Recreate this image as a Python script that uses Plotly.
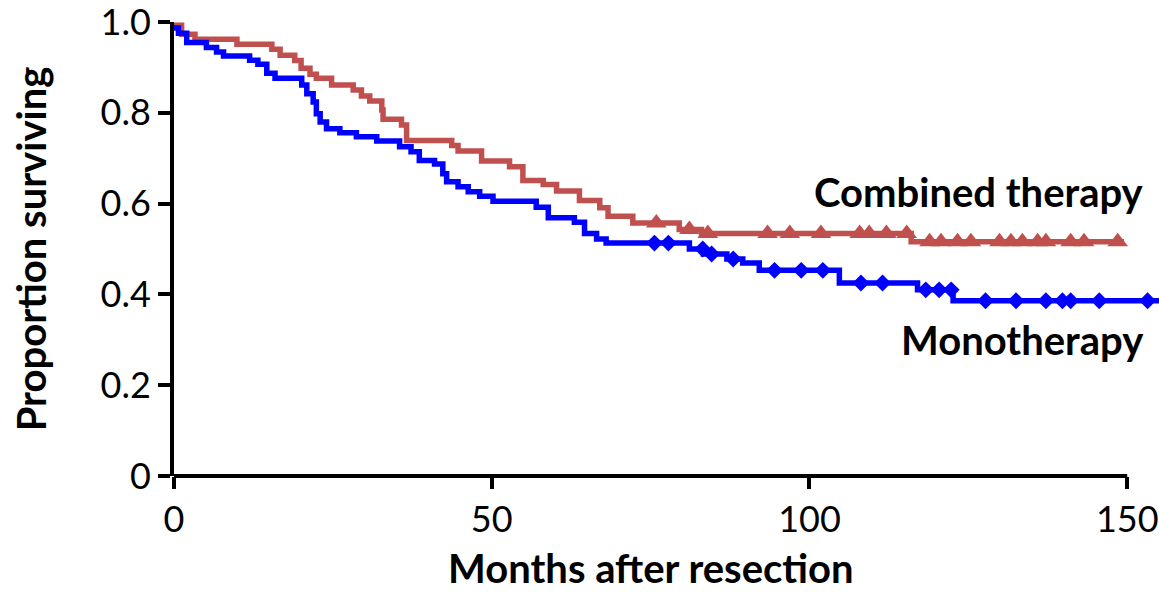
import numpy as np
import plotly.graph_objects as go

# Combined therapy (Kaplan-Meier step points)
comb_t = [0, 1.2, 3.3, 9.9, 15.4, 16.7, 19.0, 20.0, 21.4, 22.4, 24.8, 28.2, 29.5, 30.8,
          32.7, 32.9, 35.8, 36.6, 43.7, 44.7, 48.4, 52.8, 54.9, 58.1, 60.2, 63.8, 67.0,
          68.3, 72.2, 79.5, 83.0, 116.0, 149.5]
comb_s = [0.993, 0.973, 0.962, 0.951, 0.940, 0.927, 0.915, 0.898, 0.885, 0.876, 0.861, 0.850,
          0.837, 0.826, 0.806, 0.786, 0.773, 0.739, 0.728, 0.716, 0.694, 0.681, 0.651, 0.642,
          0.628, 0.607, 0.591, 0.572, 0.557, 0.543, 0.534, 0.516, 0.516]
comb_cens = [75.9, 81.1, 84.0, 93.4, 96.9, 101.8, 107.9, 109.4, 112.1, 115.3, 118.9, 120.7,
             123.3, 125.4, 129.9, 131.7, 133.5, 135.9, 137.2, 141.1, 143.2, 148.5]

# Monotherapy
mono_t = [0, 0.7, 2.0, 5.1, 6.7, 7.8, 11.9, 13.2, 14.6, 15.9, 20.1, 20.9, 21.9, 22.4, 23.0,
          24.0, 26.1, 28.7, 31.9, 35.5, 37.3, 38.6, 41.0, 42.3, 42.9, 44.7, 46.3, 48.1, 50.2,
          57.0, 58.9, 63.0, 64.6, 66.5, 68.0, 81.1, 83.3, 87.0, 89.5, 92.1, 104.7, 117.0,
          122.6, 155.0]
mono_s = [0.987, 0.975, 0.955, 0.944, 0.934, 0.925, 0.916, 0.907, 0.887, 0.876, 0.861, 0.842,
          0.824, 0.798, 0.780, 0.765, 0.756, 0.747, 0.738, 0.725, 0.714, 0.695, 0.687, 0.666,
          0.648, 0.637, 0.626, 0.616, 0.605, 0.592, 0.569, 0.559, 0.534, 0.522, 0.513, 0.500,
          0.489, 0.478, 0.469, 0.453, 0.425, 0.410, 0.386, 0.386]
mono_cens = [75.6, 77.8, 83.2, 84.6, 88.0, 94.5, 98.7, 102.1, 108.1, 111.5, 118.3, 120.4,
             122.3, 127.7, 132.5, 137.2, 139.8, 141.1, 145.6, 153.2]

x_ticks = [0, 50, 100, 150]
y_ticks = [0, 0.2, 0.4, 0.6, 0.8, 1.0]
y_tick_text = ["0", "0.2", "0.4", "0.6", "0.8", "1.0"]

RED = "#C0504D"
BLUE = "#0000FF"
FONT = "Lato"


def step_value(times, surv, t):
    idx = np.searchsorted(np.array(times), t, side="right") - 1
    return surv[max(idx, 0)]


fig = go.Figure()
fig.add_trace(go.Scatter(x=comb_t, y=comb_s, mode="lines", line=dict(color=RED, width=5.5, shape="hv"),
                         showlegend=False, hoverinfo="skip"))
fig.add_trace(go.Scatter(x=mono_t, y=mono_s, mode="lines", line=dict(color=BLUE, width=5.5, shape="hv"),
                         showlegend=False, hoverinfo="skip"))
fig.add_trace(go.Scatter(x=comb_cens, y=[step_value(comb_t, comb_s, t) for t in comb_cens], mode="markers",
                         marker=dict(symbol="triangle-up", size=18, color=RED), showlegend=False,
                         cliponaxis=False))
fig.add_trace(go.Scatter(x=mono_cens, y=[step_value(mono_t, mono_s, t) for t in mono_cens], mode="markers",
                         marker=dict(symbol="diamond", size=13, color=BLUE), showlegend=False,
                         cliponaxis=False))

# x-axis baseline ending at 150
fig.add_shape(type="line", xref="x", yref="paper", x0=0, x1=150, y0=0, y1=0,
              line=dict(color="black", width=4), layer="below")

fig.add_annotation(x=153.0, y=0.625, xref="x", yref="y", text="<b>Combined therapy</b>",
                   showarrow=False, xanchor="right", yanchor="middle",
                   font=dict(family=FONT, size=40, color="black"))
fig.add_annotation(x=153.0, y=0.299, xref="x", yref="y", text="<b>Monotherapy</b>",
                   showarrow=False, xanchor="right", yanchor="middle",
                   font=dict(family=FONT, size=40, color="black"))
# x-axis title, centred under the 0-150 axis
fig.add_annotation(x=75, y=0, xref="x", yref="paper", text="<b>Months after resection</b>",
                   showarrow=False, xanchor="center", yanchor="middle", yshift=-92,
                   font=dict(family=FONT, size=40, color="black"))

fig.update_layout(
    width=1159, height=593,
    margin=dict(l=174, r=0, t=22, b=117),
    paper_bgcolor="white", plot_bgcolor="rgba(0,0,0,0)",
    font=dict(family=FONT, color="black"),
    xaxis=dict(range=[0, 155], tickvals=x_ticks, ticktext=[str(v) for v in x_ticks],
               ticks="outside", ticklen=12, tickwidth=4, tickcolor="black",
               showline=False, showgrid=False, zeroline=False,
               tickfont=dict(family=FONT, size=36, color="black"),
               ticklabeloverflow="allow", automargin=False),
    yaxis=dict(range=[0, 1.0], tickvals=y_ticks, ticktext=y_tick_text,
               ticks="outside", ticklen=12, tickwidth=4, tickcolor="black",
               showline=True, linewidth=4, linecolor="black",
               showgrid=False, zeroline=False,
               tickfont=dict(family=FONT, size=36, color="black"),
               ticklabeloverflow="allow",
               title=dict(text="<b>Proportion surviving</b>", standoff=43,
                          font=dict(family=FONT, size=40, color="black")),
               automargin=False),
)

fig.write_html("out.html", config={"displayModeBar": False},
               post_script="document.body.style.margin='0';document.body.style.overflow='hidden';")
